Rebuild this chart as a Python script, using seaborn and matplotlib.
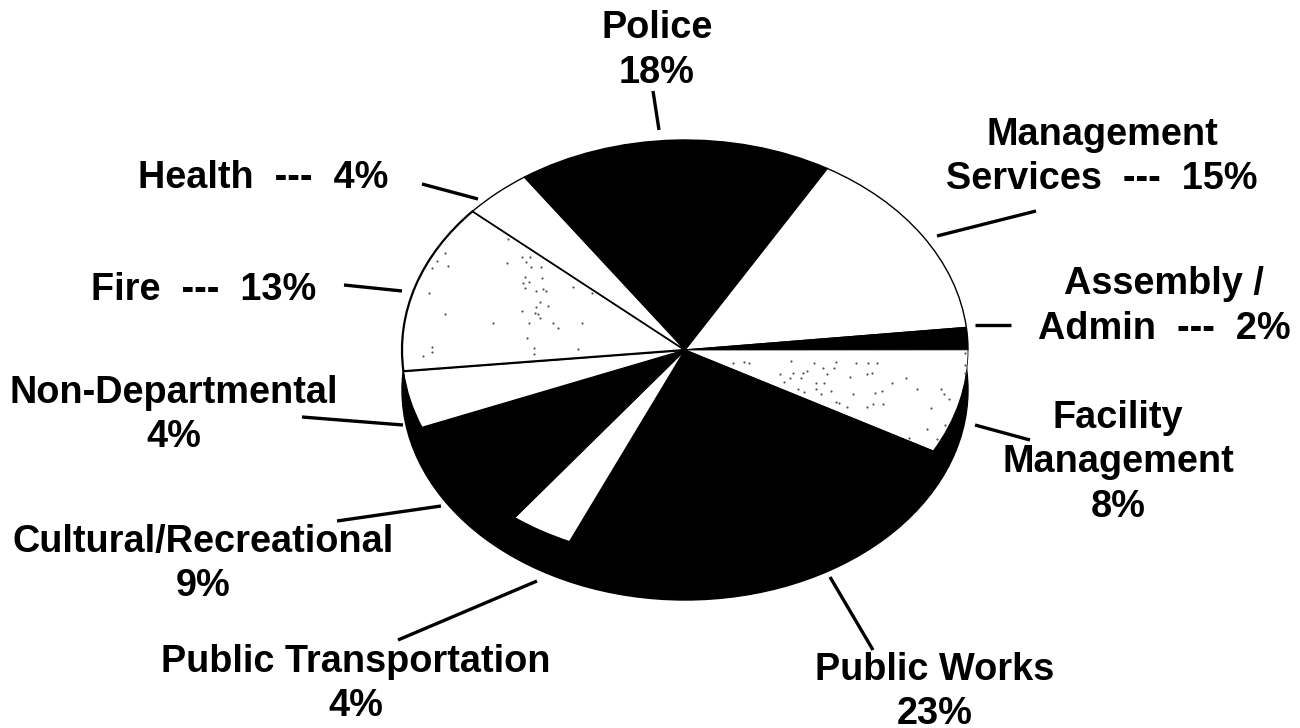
import matplotlib
matplotlib.use("Agg")
import matplotlib.pyplot as plt
from matplotlib.patches import Ellipse
import seaborn as sns

categories = ["Police", "Management Services", "Assembly / Admin", "Facility Management",
              "Public Works", "Public Transportation", "Cultural/Recreational",
              "Non-Departmental", "Fire", "Health"]
# Wedge sizes as drawn in the picture (the printed percentages are in label_texts)
shares = [18, 14.9, 1.7, 8, 23.7, 3.6, 8.7, 4.4, 13.1, 3.9]
slice_fills = ["black", "white", "black", "white", "black", "white", "black", "white", "white", "white"]
slice_edges = [1.0, 1.0, 1.0, 0.6, 1.0, 1.0, 1.0, 1.0, 1.6, 1.0]

label_texts = ["Police\n18%", "Management\nServices  ---  15%", "Assembly /\nAdmin  ---  2%",
               "Facility\nManagement\n8%", "Public Works\n23%", "Public Transportation\n4%",
               "Cultural/Recreational\n9%", "Non-Departmental\n4%", "Fire  ---  13%", "Health  ---  4%"]
label_xy = [(657, 50.5), (1102, 157), (1164, 306.5), (1118, 462.5), (935, 692), (355.5, 684),
            (203, 564), (174, 415), (204, 290.5), (263, 178)]
leaders = [((653, 91), (659, 130)), ((1036, 211), (937, 236)), ((1011, 325), (975, 325)),
           ((1030, 440), (975, 425)), ((873, 650), (830, 577)), ((537, 581), (398, 640)),
           ((441, 506), (337, 521)), ((403, 425), (302, 417)), ((402, 291), (344, 285)),
           ((478, 199), (422, 184))]

# Print specks in the two lighter slices (pixels)
fire_speck_x = [508, 445, 437, 432, 448, 507, 522, 526, 530, 531, 541, 542, 525, 523, 529, 525,
                536, 543, 546, 429, 573, 592, 540, 548, 536, 522, 445, 535, 538, 540, 529, 493,
                553, 558, 582, 527, 534, 578, 432, 432, 423, 534]
fire_speck_y = [239, 253, 261, 268, 266, 263, 257, 262, 257, 267, 267, 278, 277, 283, 282, 288,
                291, 289, 291, 293, 287, 293, 302, 306, 307, 311, 314, 313, 314, 318, 323, 323,
                323, 328, 323, 338, 348, 349, 347, 352, 356, 354]
facility_speck_x = [733, 744, 749, 791, 814, 836, 856, 868, 877, 823, 834, 780, 793, 803, 807,
                    867, 872, 827, 850, 790, 801, 784, 816, 824, 892, 906, 798, 816, 804, 821,
                    831, 853, 875, 882, 917, 941, 944, 949, 836, 839, 847, 867, 873, 883, 931,
                    927, 909, 945, 937, 965, 965, 965]
facility_speck_y = [363, 362, 363, 361, 363, 362, 363, 363, 363, 368, 368, 374, 373, 373, 371,
                    374, 373, 374, 377, 378, 378, 382, 383, 383, 383, 378, 389, 389, 392, 394,
                    391, 394, 393, 391, 389, 389, 394, 399, 402, 403, 407, 407, 404, 404, 408,
                    429, 438, 425, 439, 353, 365, 373]

sns.set_theme(style="white")
plt.rcParams["font.family"] = ["Liberation Sans", "DejaVu Sans"]

CX, CY, RX, RY, DEPTH = 685, 350, 283, 210, 40
W, H = 1300, 728

fig = plt.figure(figsize=(13, 7.28), dpi=100, facecolor="white")
over = fig.add_axes([0, 0, 1, 1])
over.set_xlim(0, W)
over.set_ylim(H, 0)
over.axis("off")
over.add_patch(Ellipse((CX, CY + DEPTH), 2 * RX, 2 * RY, fc="black", ec="black"))

ax = fig.add_axes([0, 0, 1, 1])
ax.patch.set_alpha(0)
wedges, _ = ax.pie(shares, startangle=124.6, counterclock=False, center=(0, 0), radius=1,
                   wedgeprops=dict(linewidth=1.0, edgecolor="black"))
for w, f, e in zip(wedges, slice_fills, slice_edges):
    w.set_facecolor(f)
    w.set_linewidth(e)
ax.set_aspect("auto")
ax.set_xlim(-CX / RX, (W - CX) / RX)
ax.set_ylim((CY - H) / RY, CY / RY)
ax.axis("off")

top = fig.add_axes([0, 0, 1, 1])
top.patch.set_alpha(0)
top.set_xlim(0, W)
top.set_ylim(H, 0)
top.axis("off")
sns.scatterplot(x=fire_speck_x + facility_speck_x, y=fire_speck_y + facility_speck_y,
                ax=top, s=2.5, color="#555555", linewidth=0, legend=False)
top.set_xlim(0, W)
top.set_ylim(H, 0)
for (p, q) in leaders:
    top.plot([p[0], q[0]], [p[1], q[1]], color="black", lw=2.4, solid_capstyle="butt")
for t, (x, y) in zip(label_texts, label_xy):
    top.text(x, y, t, ha="center", va="center", fontsize=27.3, fontweight="bold",
             color="black", linespacing=1.31)
fig.savefig("out.png", dpi=100, facecolor="white")
